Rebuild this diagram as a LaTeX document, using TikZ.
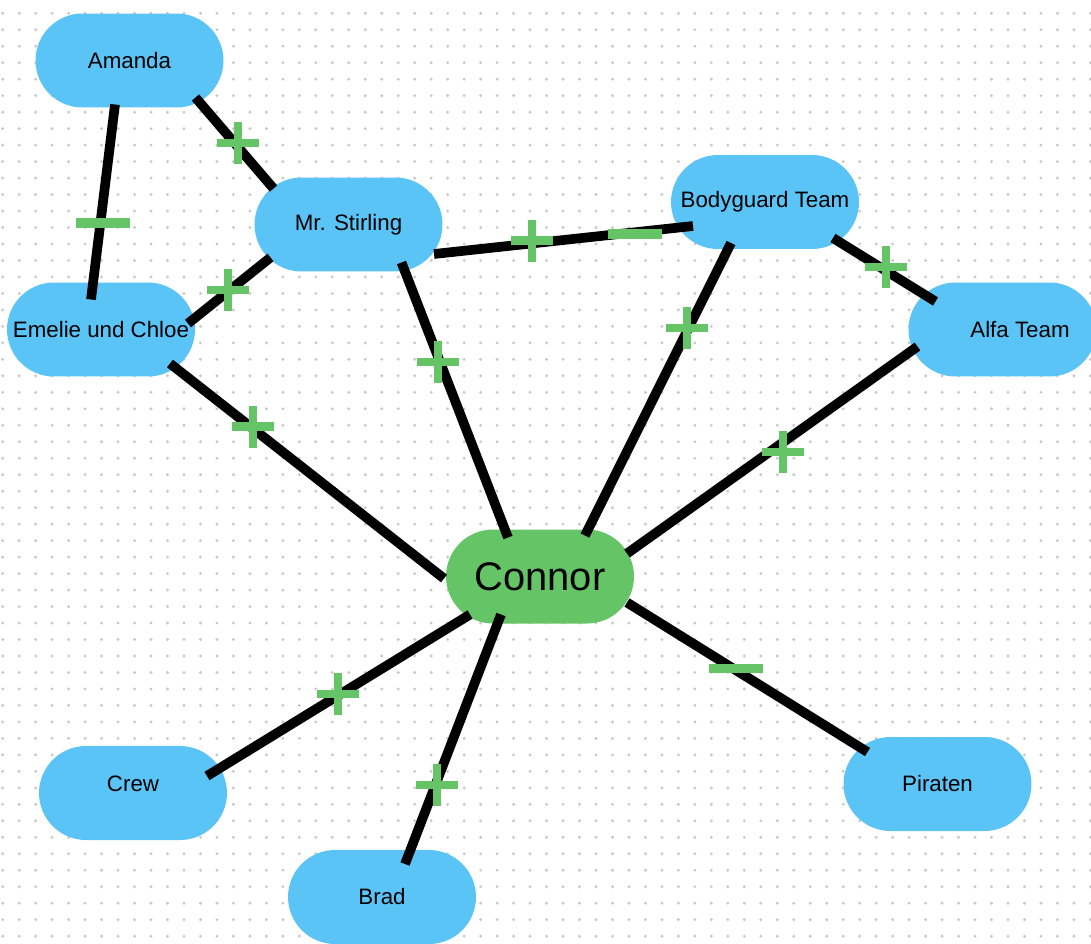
\documentclass[tikz,border=0pt]{standalone}
\usepackage{fontspec}
\setmainfont{Liberation Sans}
\usetikzlibrary{positioning}
\usetikzlibrary{calc}

\definecolor{nodeblue}{HTML}{5AC4F7}
\definecolor{signgreen}{HTML}{65C466}
\definecolor{dotgrey}{HTML}{C8C8C8}

\tikzset{
	person/.style={fill=nodeblue, rounded corners=0.94cm, minimum width=3.76cm, minimum height=1.88cm, inner sep=0pt, font=\fontsize{12.7}{15}\selectfont},
	tie/.style={line width=5.5pt},
	plus/.pic={\path[draw, signgreen, line width=5pt] (-21,0) -- (21,0) (0,-21) -- (0,21);},
	minus/.pic={\path[draw, signgreen, line width=5.3pt] (-27,0) -- (27,0);}
}

\begin{document}
\begin{tikzpicture}[x=0.02cm, y=-0.02cm]

	\useasboundingbox (0,0) rectangle (1091,943);
	\fill[white] (0,0) rectangle (1091,943);

	% dotted canvas
	\foreach \i in {0,...,66} {
		\foreach \j in {0,...,57} {
			\fill[dotgrey] (2.7+16.48*\i, -3.2+16.48*\j) circle (1.6);
		}
	}

	\node (amanda) [person] at (129.5,60.5) {Amanda};
	\node (mr_stirling) [person] at (348.5,224.5) {Mr. Stirling};
	\node (bodyguard_team) [person] at (765,202) {\raisebox{-0.06cm}{Bodyguard Team}};
	\node (emelie_chloe) [person] at (101,329.5) {Emelie und Chloe};
	\node (alfa_team) [person] at (1002.5,329.5) {\hspace*{0.7cm}Alfa Team};
	\node (connor) [person, fill=signgreen, font=\fontsize{22.7}{27}\selectfont] at (540,576.5) {Connor};
	\node (crew) [person] at (133,793) {\raisebox{0.36cm}{Crew}};
	\node (brad) [person] at (382,897) {Brad};
	\node (piraten) [person] at (937.5,784) {Piraten};

	\path[draw, tie] ($(amanda)+(-14.5,44)$) -- ($(emelie_chloe)+(-10,-30)$);
	\path[draw, tie] ($(amanda)+(66,37)$) -- ($(mr_stirling)+(-75,-36)$);
	\path[draw, tie] ($(emelie_chloe)+(87,-6)$) -- ($(mr_stirling)+(-78,33)$);
	\path[draw, tie] ($(mr_stirling)+(85.5,29.5)$) -- ($(bodyguard_team)+(-72,24)$);
	\path[draw, tie] ($(bodyguard_team)+(68,36)$) -- ($(alfa_team)+(-67,-28)$);

	\path[draw, tie] ($(emelie_chloe)+(69,34)$) -- ($(connor)+(-96,2)$);
	\path[draw, tie] ($(mr_stirling)+(53,38)$) -- ($(connor)+(-32,-39)$);
	\path[draw, tie] ($(bodyguard_team)+(-34,41)$) -- ($(connor)+(45,-41)$);
	\path[draw, tie] ($(alfa_team)+(-85,17)$) -- ($(connor)+(87,-23)$);
	\path[draw, tie] ($(connor)+(87,26)$) -- ($(piraten)+(-70,-32)$);
	\path[draw, tie] ($(connor)+(-70,38)$) -- ($(crew)+(74,-17)$);
	\path[draw, tie] ($(connor)+(-39,38)$) -- ($(brad)+(23,-33)$);

	% signs
	\pic at (103,223) {minus};
	\pic at (238,143) {plus};
	\pic at (228,290) {plus};
	\pic at (532,240.5) {plus};
	\pic at (635,234) {minus};
	\pic at (886,267) {plus};
	\pic at (253,426.5) {plus};
	\pic at (438,362) {plus};
	\pic at (687,328) {plus};
	\pic at (783,452) {plus};
	\pic at (735.7,668.5) {minus};
	\pic at (338,694) {plus};
	\pic at (437,785) {plus};

\end{tikzpicture}
\end{document}
